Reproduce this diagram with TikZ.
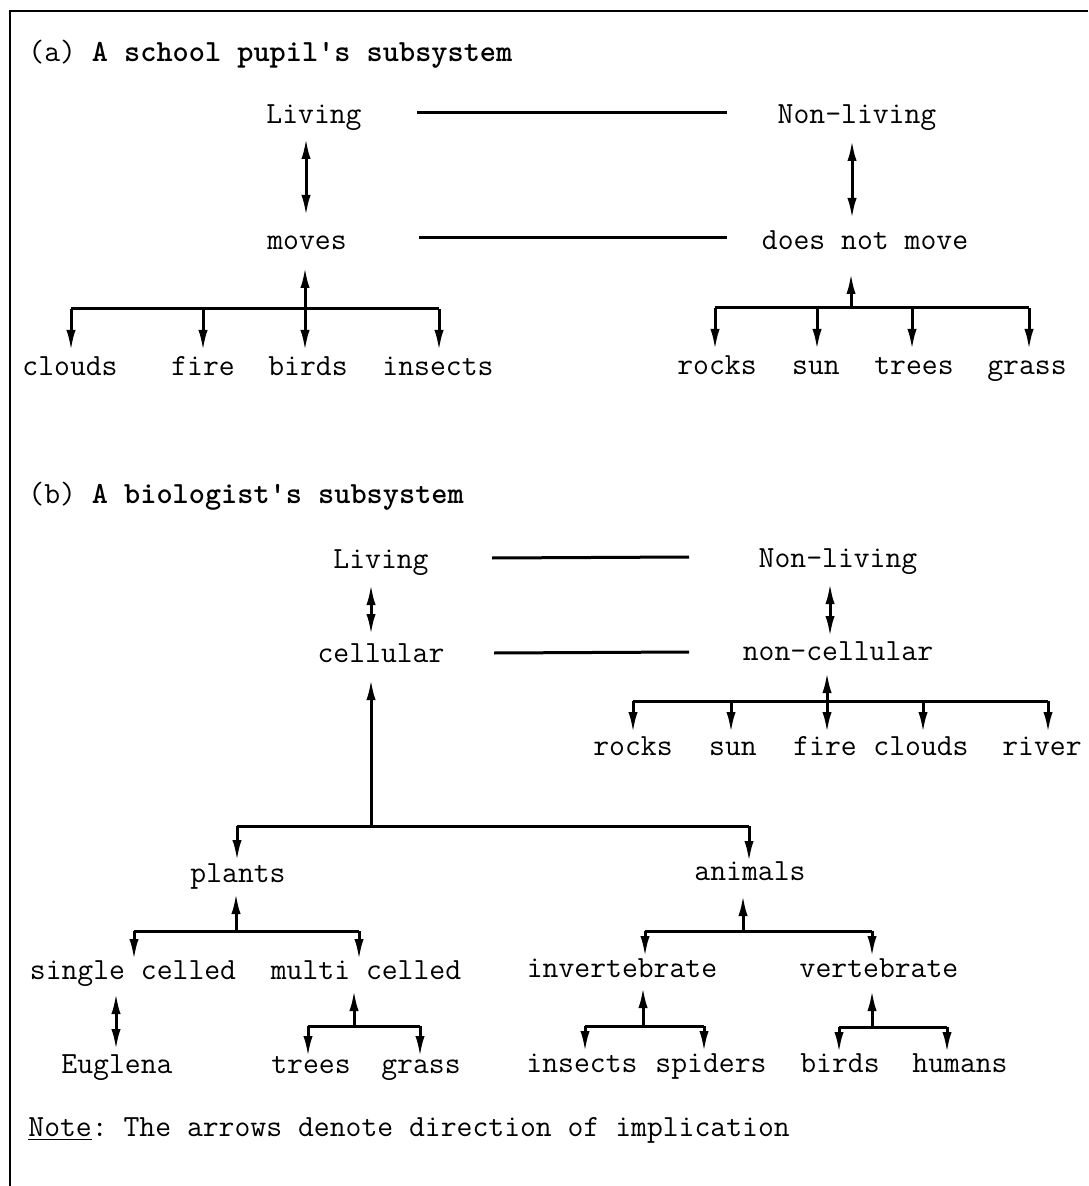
\documentclass[tikz,border=0pt]{standalone}
\usetikzlibrary{calc,arrows.meta}
\begin{document}
\begin{tikzpicture}[x=0.5pt,y=-0.5pt,
  lbl/.style={font=\ttfamily\fontsize{15.4}{18}\selectfont\frenchspacing, inner sep=0, anchor=base},
  line/.style={line width=1.5pt},
  imp/.style={line width=1.5pt, -{Latex[length=10.5pt,width=4.6pt]}},
  dbl/.style={line width=1.5pt, {Latex[length=10.5pt,width=4.6pt]}-{Latex[length=10.5pt,width=4.6pt]}},
  frame/.style={line width=1.3pt}]
\useasboundingbox (0,0) rectangle (1088,1186);
\fill[white] (0,0) rectangle (1088,1186);
% frame
\coordinate (fTR) at (1088,11);
\coordinate (fTL) at (10,11);
\coordinate (fBL) at (10,1186);
\draw[frame] (fTR) -- (fTL) -- (fBL);

% ---------------- (a) ----------------
\node[lbl,anchor=base west] (headA) at (28,62) {(a) \textbf{A school pupil\textquotesingle s subsystem}};
\node[lbl] (LivA) at (314,124) {Living};
\node[lbl] (NonA) at (857,124) {Non-living};
\node[lbl] (MovA) at (307,250) {moves};
\node[lbl] (DnmA) at (865,250) {does not move};
\node[lbl] (clA) at (70,376) {clouds};
\node[lbl] (fiA) at (203,376) {fire};
\node[lbl] (biA) at (308,376) {birds};
\node[lbl] (inA) at (438,376) {insects};
\node[lbl] (rkA) at (717,375) {rocks};
\node[lbl] (suA) at (816,375) {sun};
\node[lbl] (trA) at (914,375) {trees};
\node[lbl] (grA) at (1027,375) {grass};

\draw[line] ($(LivA.base)+(103,-11)$) -- ($(NonA.base)+(-130,-11)$);
\draw[line] ($(MovA.base)+(112,-12)$) -- ($(DnmA.base)+(-138,-12)$);
\draw[dbl] ($(LivA.base)+(-8,14)$) -- ($(MovA.base)+(-1,-34)$);
\draw[dbl] ($(NonA.base)+(-5,16)$) -- ($(DnmA.base)+(-13,-31)$);

\coordinate (jA) at (305,309);
\coordinate (bA1) at (71,309);
\coordinate (bA2) at (203,309);
\coordinate (bA4) at (439,309);
\draw[line] (bA1) -- (bA4);
\draw[imp] (jA) -- ($(MovA.base)+(-2,17)$);
\draw[imp,shorten >=12.5pt] (bA1) -- (bA1 |- clA.base);
\draw[imp,shorten >=12.5pt] (bA2) -- (bA2 |- fiA.base);
\draw[imp,shorten >=12.5pt] (jA) -- (jA |- biA.base);
\draw[imp,shorten >=12.5pt] (bA4) -- (bA4 |- inA.base);

\coordinate (jB) at (851,308);
\coordinate (bB1) at (715,308);
\coordinate (bB2) at (817,308);
\coordinate (bB3) at (912,308);
\coordinate (bB4) at (1029,308);
\draw[line] (bB1) -- (bB4);
\draw[imp] (jB) -- ($(DnmA.base)+(-14,23)$);
\draw[imp,shorten >=12.5pt] (bB1) -- (bB1 |- rkA.base);
\draw[imp,shorten >=12.5pt] (bB2) -- (bB2 |- suA.base);
\draw[imp,shorten >=12.5pt] (bB3) -- (bB3 |- trA.base);
\draw[imp,shorten >=12.5pt] (bB4) -- (bB4 |- grA.base);

% ---------------- (b) ----------------
\node[lbl,anchor=base west] (headB) at (28,503) {(b) \textbf{A biologist\textquotesingle s subsystem}};
\node[lbl] (LivB) at (381,568) {Living};
\node[lbl] (NonB) at (838,567) {Non-living};
\node[lbl] (CelB) at (381,662) {cellular};
\node[lbl] (NcB) at (838,660) {non-cellular};
\node[lbl] (rkB) at (633,755) {rocks};
\node[lbl] (suB) at (733,755) {sun};
\node[lbl] (fiB) at (825,755) {fire};
\node[lbl] (clB) at (921,755) {clouds};
\node[lbl] (riB) at (1042,755) {river};
\node[lbl] (PlB) at (238,882) {plants};
\node[lbl] (AnB) at (750,880) {animals};
\node[lbl] (scB) at (133,979) {single celled};
\node[lbl] (mcB) at (366,979) {multi celled};
\node[lbl] (ivB) at (622,977) {invertebrate};
\node[lbl] (vtB) at (879,977) {vertebrate};
\node[lbl] (EuB) at (117,1073) {Euglena};
\node[lbl] (trB) at (311,1073) {trees};
\node[lbl] (gsB) at (421,1073) {grass};
\node[lbl] (inB) at (582,1072) {insects};
\node[lbl] (spB) at (711,1072) {spiders};
\node[lbl] (bdB) at (840,1072) {birds};
\node[lbl] (huB) at (960,1072) {humans};
\node[lbl,anchor=base west] (note) at (28,1136) {\underline{Note}: The arrows denote direction of implication};

\draw[line] ($(LivB.base)+(111,-10)$) -- ($(NonB.base)+(-149,-10)$);
\draw[line] ($(CelB.base)+(113,-9)$) -- ($(NcB.base)+(-149,-8)$);
\draw[dbl] ($(LivB.base)+(-10,16)$) -- ($(CelB.base)+(-10,-27)$);
\draw[dbl] ($(NonB.base)+(-8,16)$) -- ($(NcB.base)+(-8,-23)$);

% cellular -> plants / animals
\coordinate (jC) at (371,826);
\coordinate (bC1) at (237,826);
\coordinate (bC2) at (749,826);
\draw[line] (bC1) -- (bC2);
\draw[imp] (jC) -- ($(CelB.base)+(-10,17)$);
\draw[imp,shorten >=10.5pt] (bC1) -- (bC1 |- PlB.base);
\draw[imp,shorten >=9pt] (bC2) -- (bC2 |- AnB.base);

% non-cellular
\coordinate (jD) at (827,701);
\coordinate (bD1) at (633,701);
\coordinate (bD2) at (731,701);
\coordinate (bD4) at (923,701);
\coordinate (bD5) at (1048,701);
\draw[line] (bD1) -- (bD5);
\draw[imp] (jD) -- ($(NcB.base)+(-11,12)$);
\draw[imp,shorten >=11pt] (bD1) -- (bD1 |- rkB.base);
\draw[imp,shorten >=11pt] (bD2) -- (bD2 |- suB.base);
\draw[imp,shorten >=11pt] (jD) -- (jD |- fiB.base);
\draw[imp,shorten >=11pt] (bD4) -- (bD4 |- clB.base);
\draw[imp,shorten >=11pt] (bD5) -- (bD5 |- riB.base);

% plants
\coordinate (jE) at (236,931);
\coordinate (bE1) at (134,931);
\coordinate (bE2) at (359,931);
\draw[line] (bE1) -- (bE2);
\draw[imp] (jE) -- ($(PlB.base)+(-2,11)$);
\draw[imp,shorten >=9.5pt] (bE1) -- (bE1 |- scB.base);
\draw[imp,shorten >=9.5pt] (bE2) -- (bE2 |- mcB.base);

% animals
\coordinate (jF) at (743,931);
\coordinate (bF1) at (645,931);
\coordinate (bF2) at (872,931);
\draw[line] (bF1) -- (bF2);
\draw[imp] (jF) -- ($(AnB.base)+(-7,15)$);
\draw[imp,shorten >=10pt] (bF1) -- (bF1 |- ivB.base);
\draw[imp,shorten >=10pt] (bF2) -- (bF2 |- vtB.base);

% single celled <-> Euglena
\draw[dbl] ($(scB.base)+(-17,14)$) -- ($(EuB.base)+(-1,-23)$);

% multi celled
\coordinate (jG) at (354,1026);
\coordinate (bG1) at (308,1026);
\coordinate (bG2) at (420,1026);
\draw[line] (bG1) -- (bG2);
\draw[imp] (jG) -- ($(mcB.base)+(-12,11)$);
\draw[imp,shorten >=8pt] (bG1) -- (bG1 |- trB.base);
\draw[imp,shorten >=8pt] (bG2) -- (bG2 |- gsB.base);

% invertebrate
\coordinate (jH) at (643,1026);
\coordinate (bH1) at (585,1026);
\coordinate (bH2) at (704,1026);
\draw[line] (bH1) -- (bH2);
\draw[imp] (jH) -- ($(ivB.base)+(21,10)$);
\draw[imp,shorten >=10pt] (bH1) -- (bH1 |- inB.base);
\draw[imp,shorten >=10pt] (bH2) -- (bH2 |- spB.base);

% vertebrate
\coordinate (jI) at (872,1027);
\coordinate (bI1) at (839,1027);
\coordinate (bI2) at (947,1027);
\draw[line] (bI1) -- (bI2);
\draw[imp] (jI) -- ($(vtB.base)+(-7,13)$);
\draw[imp,shorten >=9.5pt] (bI1) -- (bI1 |- bdB.base);
\draw[imp,shorten >=9.5pt] (bI2) -- (bI2 |- huB.base);
\end{tikzpicture}
\end{document}
